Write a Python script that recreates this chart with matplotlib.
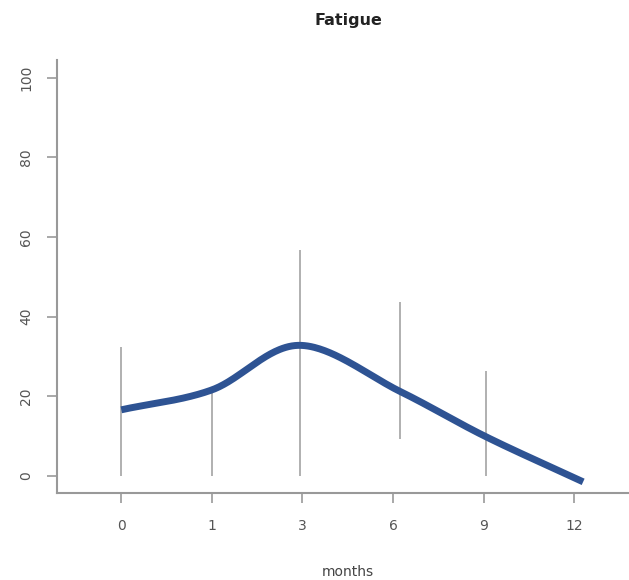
import numpy as np
import matplotlib
matplotlib.use("Agg")
import matplotlib.pyplot as plt

# Data
months = ["0", "1", "3", "6", "9", "12"]
tick_pos = [0, 1, 2, 3, 4, 5]
data_x = [0, 1.0, 1.97, 3.08, 4.03, 5.1]
fatigue_mean = [16.6, 21.6, 32.8, 21.2, 9.8, -1.5]
bar_low = [0, 0, 0, 9.3, 0]
bar_high = [32.4, 21.4, 56.8, 43.7, 26.4]
yticks = [0, 20, 40, 60, 80, 100]


def catmull_rom(x, y, n=60):
    x = np.asarray(x, float)
    y = np.asarray(y, float)
    px = np.concatenate([[2 * x[0] - x[1]], x, [2 * x[-1] - x[-2]]])
    py = np.concatenate([[2 * y[0] - y[1]], y, [2 * y[-1] - y[-2]]])
    xs, ys = [], []
    for i in range(1, len(px) - 2):
        t = np.linspace(0, 1, n)
        t2, t3 = t * t, t * t * t
        def cr(p):
            return 0.5 * ((2 * p[i]) + (-p[i - 1] + p[i + 1]) * t +
                          (2 * p[i - 1] - 5 * p[i] + 4 * p[i + 1] - p[i + 2]) * t2 +
                          (-p[i - 1] + 3 * p[i] - 3 * p[i + 1] + p[i + 2]) * t3)
        xs.append(cr(px))
        ys.append(cr(py))
    return np.concatenate(xs), np.concatenate(ys)


fig = plt.figure(figsize=(6.29, 5.8), dpi=100)
ax = fig.add_axes([0.0906, 0.15, 0.92, 0.7466])

gray = "#999999"
txt = "#555555"

ax.vlines(data_x[:5], bar_low, bar_high, color="#aaaaaa", lw=1.3, zorder=1)
sx, sy = catmull_rom(data_x, fatigue_mean)
ax.plot(sx, sy, color="#2E5393", lw=5.0, solid_capstyle="butt", zorder=2)

ax.set_xlim(-0.71, 5.68)
ax.set_ylim(-4.3, 104.5)
ax.set_xticks(tick_pos)
ax.set_xticklabels(months, fontsize=10, color=txt)
ax.set_yticks(yticks)
ax.set_yticklabels([str(v) for v in yticks], fontsize=10, color=txt,
                   rotation=90, va="center")
for s in ["top", "right"]:
    ax.spines[s].set_visible(False)
for s in ["left", "bottom"]:
    ax.spines[s].set_color(gray)
    ax.spines[s].set_linewidth(1.5)
ax.tick_params(axis="x", colors=gray, labelcolor=txt, length=7, width=1.2, pad=12)
ax.tick_params(axis="y", colors=gray, labelcolor=txt, length=7, width=1.2, pad=10)

fig.text(348 / 629, 1 - 20 / 580, "Fatigue", ha="center", va="center",
         fontsize=11.5, fontweight="bold", color="#222222")
fig.text(348 / 629, 1 - 572 / 580, "months", ha="center", va="center",
         fontsize=10, color="#444444")

fig.savefig("out.png", dpi=100)
